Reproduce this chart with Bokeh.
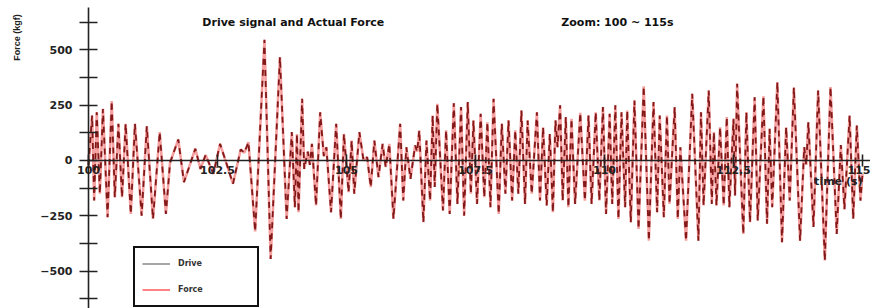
import math
from bokeh.plotting import figure
from bokeh.models import (Label, Legend, LegendItem, FixedTicker, Range1d,
                          ColumnDataSource, NumeralTickFormatter)
from bokeh.embed import file_html
from bokeh.resources import INLINE

# ---- data (turning points of the signals) ----
time_s = [
    100.00, 100.07, 100.11, 100.16, 100.22, 100.28, 100.37, 100.45, 100.51, 100.58,
    100.65, 100.72, 100.82, 100.90, 101.03, 101.13, 101.25, 101.38, 101.50, 101.58,
    101.74, 101.85, 102.07, 102.17, 102.27, 102.42, 102.55, 102.80, 102.95, 103.02,
    103.10, 103.23, 103.41, 103.53, 103.71, 103.84, 103.94, 104.00, 104.04, 104.07,
    104.14, 104.18, 104.25, 104.29, 104.33, 104.41, 104.49, 104.56, 104.61, 104.70,
    104.80, 104.89, 104.95, 105.04, 105.10, 105.15, 105.25, 105.33, 105.40, 105.47,
    105.54, 105.62, 105.70, 105.76, 105.83, 105.91, 106.04, 106.10, 106.16, 106.24,
    106.33, 106.37, 106.41, 106.49, 106.55, 106.62, 106.67, 106.71, 106.76, 106.87,
    106.93, 107.00, 107.08, 107.15, 107.22, 107.28, 107.35, 107.41, 107.46, 107.53,
    107.60, 107.67, 107.73, 107.79, 107.85, 107.95, 108.01, 108.08, 108.14, 108.21,
    108.27, 108.33, 108.39, 108.46, 108.51, 108.59, 108.69, 108.75, 108.81, 108.88,
    108.94, 109.00, 109.05, 109.09, 109.14, 109.19, 109.25, 109.30, 109.36, 109.43,
    109.53, 109.62, 109.69, 109.75, 109.83, 109.90, 109.97, 110.03, 110.10, 110.15,
    110.21, 110.27, 110.33, 110.40, 110.44, 110.51, 110.58, 110.66, 110.76, 110.86,
    110.95, 111.02, 111.07, 111.15, 111.21, 111.26, 111.36, 111.42, 111.47, 111.58,
    111.70, 111.82, 111.87, 111.92, 112.02, 112.08, 112.12, 112.17, 112.24, 112.31,
    112.37, 112.42, 112.50, 112.53, 112.57, 112.69, 112.75, 112.82, 112.91, 112.97,
    113.08, 113.15, 113.20, 113.25, 113.35, 113.44, 113.52, 113.59, 113.67, 113.79,
    113.87, 113.91, 113.95, 114.05, 114.14, 114.27, 114.38, 114.50, 114.58, 114.65,
    114.75, 114.82, 114.89, 114.96, 115.00,
]
drive_kgf = [
    -20, 203, -181, 218, -150, 233, -256, 268, -166, 166,
    -166, 166, -241, 166, -249, 154, -264, 128, -241, -10,
    95, -98, 53, -38, 25, -60, 75, -105, 50, 35,
    83, -320, 545, -445, 467, -264, 128, -211, 120, -234,
    279, -38, 40, -20, 75, -203, 218, 20, 60, -234,
    166, -264, 120, -143, 90, -150, 128, 0, 15, -120,
    90, -75, 75, -30, 75, -264, 166, -181, 60, -83,
    68, 40, 136, -279, 90, -181, 203, -120, 256, -226,
    136, -241, 259, -196, 241, -249, 264, -150, 181, -196,
    211, -166, 173, -211, 279, -241, 166, -150, 181, -181,
    136, -150, 226, -196, 181, -150, 218, -181, 150, -203,
    120, -234, 181, 60, 249, -181, 196, -211, 188, -196,
    215, -181, 203, -196, 218, -181, 241, -241, 211, -196,
    249, -264, 218, -211, 226, -279, 271, -309, 335, -362,
    264, -234, 203, -256, 203, -196, 241, -264, 60, -362,
    301, -362, 218, -203, 316, -196, 128, -203, 150, -203,
    196, -211, 188, -158, 347, -332, 218, -279, 286, -271,
    290, -286, 143, -211, 354, -369, 150, -181, 330, -362,
    60, -20, 173, -300, 316, -452, 332, -332, 70, -220,
    203, -264, 158, -181, -60,
]
force_kgf = list(drive_kgf)

x_ticks = [100, 102.5, 105, 107.5, 110, 112.5, 115]
y_ticks = [-500, -250, 0, 250, 500]
y_minor_ticks = [-625, -375, -125, 125, 375, 625]

src = ColumnDataSource(dict(t=time_s, drive=drive_kgf, force=force_kgf))
proxy = ColumnDataSource(dict(t=[float("nan")], v=[float("nan")]))

# frame covers the whole canvas; axes are pinned at t=100 and F=0
p = figure(width=870, height=308,
           x_range=Range1d(98.2946, 115.155), y_range=Range1d(-668.5, 722.7),
           output_backend="svg", toolbar_location=None,
           min_border_left=0, min_border_right=0,
           min_border_top=0, min_border_bottom=0)
p.outline_line_color = None
p.grid.visible = False

# signals
p.line("t", "force", source=src, line_color="#f4a0a0", line_width=2.6)
p.line("t", "drive", source=src, line_color="#821818", line_width=1.8,
       line_dash="6 5")

# legend proxies (no visible points)
r_drive = p.line("t", "v", source=proxy, line_color="#6a6a6a", line_width=1.2)
r_force = p.line("t", "v", source=proxy, line_color="#ff3030", line_width=1.2)

# x axis through zero
xa = p.xaxis[0]
xa.fixed_location = 0
xa.bounds = (100, 115.155)
xa.ticker = FixedTicker(ticks=x_ticks)
xa.formatter = NumeralTickFormatter(format="0.[0]")
xa.axis_line_color = "#222222"
xa.axis_line_width = 1.6
xa.major_tick_in = 6
xa.major_tick_out = 6
xa.major_tick_line_width = 1.6
xa.major_tick_line_color = "#222222"
xa.minor_tick_line_color = None
xa.major_label_standoff = 0
xa.major_label_text_font = "DejaVu Sans"
xa.major_label_text_font_style = "bold"
xa.major_label_text_font_size = "11px"
xa.major_label_text_color = "#222222"

# y axis pinned at t = 100
ya = p.yaxis[0]
ya.fixed_location = 100
ya.bounds = (-668.5, 691)
ya.ticker = FixedTicker(ticks=y_ticks, minor_ticks=y_minor_ticks)
ya.axis_line_color = "#222222"
ya.axis_line_width = 1.6
ya.major_tick_in = 9
ya.major_tick_out = 9
ya.minor_tick_in = 9
ya.minor_tick_out = 9
ya.major_tick_line_width = 1.6
ya.minor_tick_line_width = 1.6
ya.major_tick_line_color = "#222222"
ya.minor_tick_line_color = "#222222"
ya.major_label_standoff = 7
ya.major_label_text_font = "DejaVu Sans"
ya.major_label_text_font_style = "bold"
ya.major_label_text_font_size = "11px"
ya.major_label_text_color = "#222222"

# texts
p.add_layout(Label(x=98.624, y=556, text="Force (kgf)", angle=math.pi / 2,
                   text_align="center", text_baseline="middle",
                   text_font="Liberation Sans", text_font_style="bold",
                   text_font_size="9px", text_color="#222222"))
p.add_layout(Label(x=103.97, y=623, text="Drive signal and Actual Force",
                   text_align="center", text_baseline="middle",
                   text_font="DejaVu Sans", text_font_style="bold",
                   text_font_size="11px", text_color="#111111"))
p.add_layout(Label(x=110.25, y=623, text="Zoom: 100 ~ 115s",
                   text_align="center", text_baseline="middle",
                   text_font="DejaVu Sans", text_font_style="bold",
                   text_font_size="11px", text_color="#111111"))
p.add_layout(Label(x=115, y=-95, text="time (s)",
                   text_align="right", text_baseline="middle",
                   text_font="DejaVu Sans", text_font_style="bold",
                   text_font_size="11px", text_color="#222222"))

legend = Legend(items=[LegendItem(label="Drive", renderers=[r_drive]),
                       LegendItem(label="Force", renderers=[r_force])],
                location=(133, 1), orientation="vertical",
                border_line_color="#111111", border_line_width=2,
                border_line_alpha=1,
                background_fill_color="white", background_fill_alpha=1,
                label_text_font="DejaVu Sans", label_text_font_style="bold",
                label_text_font_size="8px", label_text_color="#333333",
                glyph_width=28, glyph_height=17, label_height=17,
                label_width=72, label_standoff=8, spacing=9, padding=7,
                margin=0)
p.add_layout(legend)

open("out.html", "w").write(file_html(p, INLINE))
